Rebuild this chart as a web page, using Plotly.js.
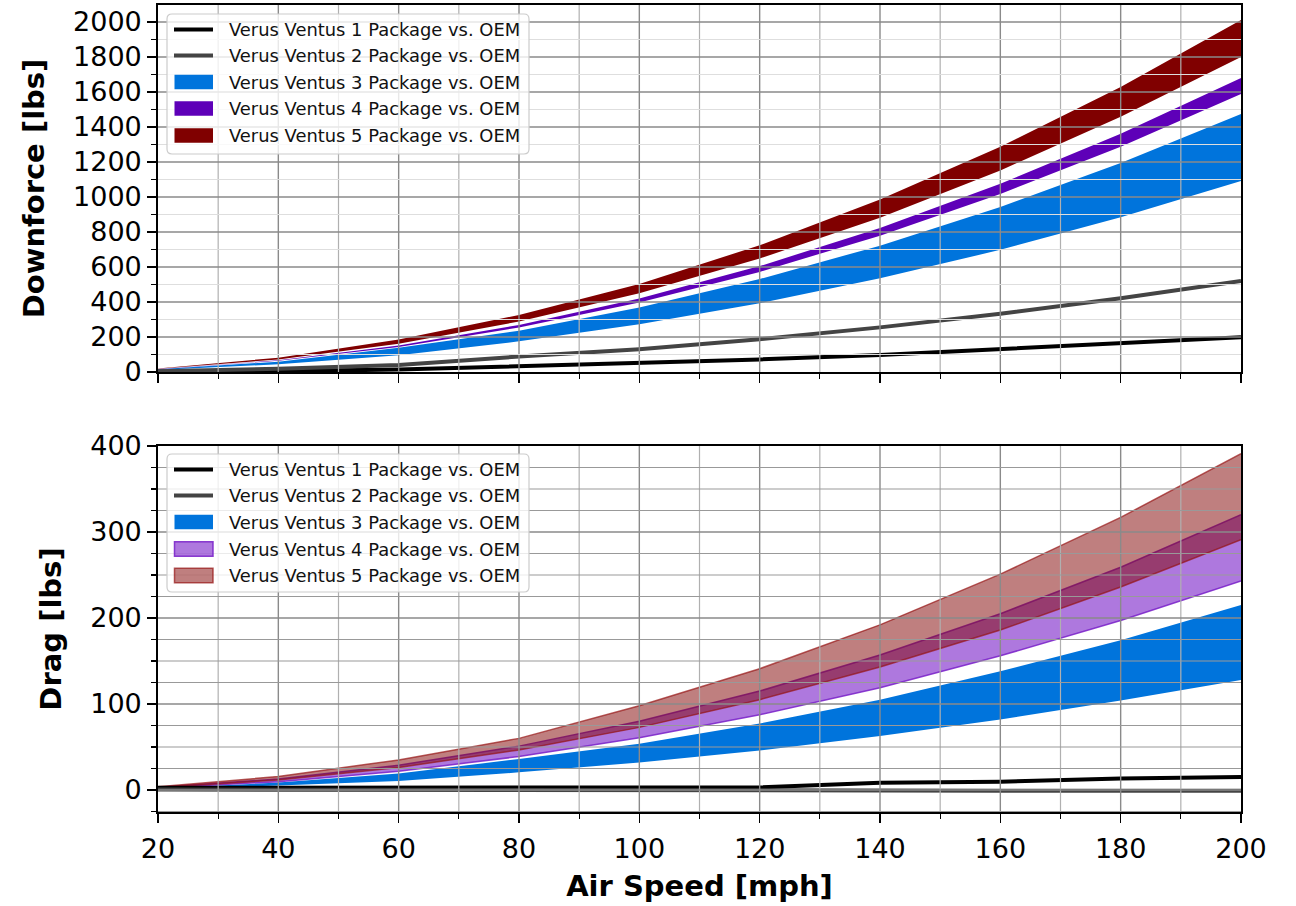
<!DOCTYPE html>
<html><head><meta charset="utf-8">
<script src="https://cdn.plot.ly/plotly-3.0.1.min.js"></script>
<style>html,body{margin:0;padding:0;background:#fff}#chart{width:1296px;height:906px}</style>
</head><body><div id="chart"></div>
<script>
// ---- data ----
const speed = [20, 40, 60, 80, 100, 120, 140, 160, 180, 200];
const seriesNames = ["Verus Ventus 1 Package vs. OEM", "Verus Ventus 2 Package vs. OEM", "Verus Ventus 3 Package vs. OEM", "Verus Ventus 4 Package vs. OEM", "Verus Ventus 5 Package vs. OEM"];
// Downforce [lbs]
const dfVV1 = [2, 5, 14, 32, 50, 72, 97, 130, 164, 198];
const dfVV2 = [4, 19, 40, 88, 130, 187, 255, 333, 421, 520];
const dfVV3Lo = [11, 44, 95, 175, 273, 393, 535, 698, 884, 1091];
const dfVV3Hi = [15, 59, 138, 236, 369, 531, 722, 943, 1194, 1474];
const dfVV4Lo = [16, 64, 143, 254, 397, 572, 779, 1017, 1287, 1589];
const dfVV4Hi = [17, 67, 151, 269, 420, 605, 823, 1075, 1361, 1680];
const dfVV5Lo = [18, 72, 162, 288, 450, 648, 882, 1152, 1458, 1800];
const dfVV5Hi = [20, 82, 186, 326, 503, 724, 985, 1287, 1629, 2011];
// Drag [lbs]
const drVV1 = [2.5, 2.5, 2.5, 2.5, 3, 3, 8.5, 9.5, 13.5, 15];
const drVV2 = [0.5, 0.5, 0.5, 0.5, 0.5, 0.5, -0.5, -1, -1, -1];
const drVV3Lo = [1.3, 5.1, 10.5, 20.5, 32, 46, 62.7, 82, 104, 128];
const drVV3Hi = [2.1, 8.6, 19.3, 36, 53.7, 77.3, 105, 138, 174, 215];
const drVV4Lo = [2.4, 9.7, 21.9, 38.9, 60.8, 87.5, 119, 156, 197, 243];
const drVV4Hi = [3.2, 12.8, 28.8, 51, 80, 115, 157, 205, 259, 320];
const drVV5Lo = [2.9, 11.6, 26.2, 46.6, 72.8, 105, 143, 186, 236, 291];
const drVV5Hi = [3.9, 15.6, 35, 60, 98, 141, 192, 251, 317, 391];

// ---- styles ----
const FONT = "DejaVu Sans, Verdana, sans-serif";
const C1 = "#000000", C2 = "#444444", C3 = "#0074DC", C4 = "#5E00B8", C5 = "#800000";
const F4 = "rgba(120,30,200,0.6)", E4 = "rgba(120,30,200,0.85)";
const F5 = "rgba(128,0,0,0.5)", E5 = "rgba(150,20,20,0.7)";

function band(x, lo, hi, xa, ya, fill, edge, ew) {
  return [
    {x: x, y: lo, xaxis: xa, yaxis: ya, mode: "lines", line: {width: ew, color: edge}, showlegend: false, hoverinfo: "skip"},
    {x: x, y: hi, xaxis: xa, yaxis: ya, mode: "lines", fill: "tonexty", fillcolor: fill, line: {width: ew, color: edge}, showlegend: false, hoverinfo: "skip"}
  ];
}
function line(x, y, xa, ya, color) {
  return {x: x, y: y, xaxis: xa, yaxis: ya, mode: "lines", line: {width: 4, color: color}, showlegend: false, hoverinfo: "skip"};
}

const data = [].concat(
  band(speed, dfVV3Lo, dfVV3Hi, "x", "y", C3, C3, 0),
  band(speed, dfVV4Lo, dfVV4Hi, "x", "y", C4, C4, 0),
  band(speed, dfVV5Lo, dfVV5Hi, "x", "y", C5, C5, 0),
  [line(speed, dfVV1, "x", "y", C1), line(speed, dfVV2, "x", "y", C2)],
  band(speed, drVV3Lo, drVV3Hi, "x2", "y2", C3, C3, 0),
  band(speed, drVV4Lo, drVV4Hi, "x2", "y2", F4, E4, 1.5),
  band(speed, drVV5Lo, drVV5Hi, "x2", "y2", F5, E5, 1.5),
  [line(speed, drVV1, "x2", "y2", C1), line(speed, drVV2, "x2", "y2", C2)]
);

// ---- geometry (pixels -> paper) ----
const L = 158, R = 1241, T = 5, B = 812;
const px = p => (p - L) / (R - L);
const py = p => (B - p) / (B - T);

const shapes = [], annotations = [];

// grid lines drawn above the filled bands (as in the reference)
const GMAJ = "#8a8a8a", GMINX = "#b0b0b0", GMINY1 = "#dedede", GMINY2 = "#999999";
function vgrid(xa, ya, v, color, w) {
  shapes.push({type: "line", xref: xa, yref: ya + " domain", x0: v, x1: v, y0: 0, y1: 1, line: {color: color, width: w}, layer: "above"});
}
function hgrid(xa, ya, v, color, w) {
  shapes.push({type: "line", xref: xa + " domain", yref: ya, x0: 0, x1: 1, y0: v, y1: v, line: {color: color, width: w}, layer: "above"});
}
[["x", "y"], ["x2", "y2"]].forEach(([xa, ya]) => {
  for (let v = 30; v < 200; v += 20) vgrid(xa, ya, v, GMINX, 1.2);
  for (let v = 40; v < 200; v += 20) vgrid(xa, ya, v, GMAJ, 1.4);
});
for (let v = 100; v < 2097; v += 200) hgrid("x", "y", v, GMINY1, 1.2);
for (let v = 200; v < 2097; v += 200) hgrid("x", "y", v, GMAJ, 1.4);
for (let v = -25; v < 400; v += 25) { if (v % 100 !== 0) hgrid("x2", "y2", v, GMINY2, 1.2); }
for (let v = 0; v < 400; v += 100) hgrid("x2", "y2", v, GMAJ, 1.4);

function roundRect(x0, y0, x1, y1, r) {
  const P = (a, b) => px(a).toFixed(5) + "," + py(b).toFixed(5);
  return "M" + P(x0 + r, y0) + " L" + P(x1 - r, y0) + " Q" + P(x1, y0) + " " + P(x1, y0 + r) +
    " L" + P(x1, y1 - r) + " Q" + P(x1, y1) + " " + P(x1 - r, y1) +
    " L" + P(x0 + r, y1) + " Q" + P(x0, y1) + " " + P(x0, y1 - r) +
    " L" + P(x0, y0 + r) + " Q" + P(x0, y0) + " " + P(x0 + r, y0) + " Z";
}

function legendBox(top, bottom, rows, kinds) {
  shapes.push({type: "path", xref: "paper", yref: "paper", path: roundRect(167, top, 529, bottom, 5),
    fillcolor: "rgba(255,255,255,0.8)", line: {color: "rgba(204,204,204,1)", width: 1.2}, layer: "above"});
  rows.forEach((ry, i) => {
    const k = kinds[i];
    if (k.type === "line") {
      shapes.push({type: "line", xref: "paper", yref: "paper", x0: px(174), x1: px(213), y0: py(ry), y1: py(ry),
        line: {color: k.color, width: 4}, layer: "above"});
    } else {
      shapes.push({type: "rect", xref: "paper", yref: "paper", x0: px(174.5), x1: px(213), y0: py(ry - 7.2), y1: py(ry + 7.2),
        fillcolor: k.fill, line: {color: k.edge, width: k.ew}, layer: "above"});
    }
    annotations.push({xref: "paper", yref: "paper", x: px(227), y: py(ry), xanchor: "left", yanchor: "middle",
      text: seriesNames[i], showarrow: false, font: {family: FONT, size: 17.9, color: "#111"}});
  });
}
legendBox(14, 154, [29.5, 55.5, 82, 108.5, 135.5], [
  {type: "line", color: C1}, {type: "line", color: C2},
  {type: "rect", fill: C3, edge: C3, ew: 0}, {type: "rect", fill: C4, edge: C4, ew: 0}, {type: "rect", fill: C5, edge: C5, ew: 0}]);
legendBox(454, 592, [469.5, 495.5, 522, 549, 575.5], [
  {type: "line", color: C1}, {type: "line", color: C2},
  {type: "rect", fill: C3, edge: C3, ew: 0}, {type: "rect", fill: F4, edge: E4, ew: 1.5}, {type: "rect", fill: F5, edge: E5, ew: 1.5}]);

const tickFont = {family: FONT, size: 27, color: "#000"};
const titleFont = {family: FONT, size: 29, color: "#000", weight: "bold"};
const common = {
  showline: true, linecolor: "#000", linewidth: 1.8, mirror: true, zeroline: false,
  ticks: "outside", ticklen: 9, tickwidth: 1.6, tickcolor: "#000", tickfont: tickFont,
  showgrid: false, layer: "above traces"
};
const xCommon = Object.assign({}, common, {
  range: [20, 200], tickmode: "linear", tick0: 20, dtick: 20, ticklabelstandoff: 3,
  minor: {dtick: 10, ticks: "outside", ticklen: 5, tickwidth: 1.3, tickcolor: "#000", showgrid: false}
});

const layout = {
  width: 1296, height: 906, paper_bgcolor: "#fff", plot_bgcolor: "#fff",
  margin: {l: L, r: 1296 - R, t: T, b: 906 - B, pad: 0},
  showlegend: false,
  font: {family: FONT},
  xaxis: Object.assign({}, xCommon, {anchor: "y", matches: "x2", showticklabels: false, automargin: false}),
  xaxis2: Object.assign({}, xCommon, {anchor: "y2",
    title: {text: "Air Speed [mph]", font: titleFont, standoff: 12}, automargin: "bottom"}),
  yaxis: Object.assign({}, common, {domain: [py(372), 1], range: [0, 2097], tickmode: "linear", tick0: 0, dtick: 200,
    minor: {dtick: 100, ticks: "outside", ticklen: 5, tickwidth: 1.3, tickcolor: "#000", showgrid: false},
    automargin: "left", title: {text: "Downforce [lbs]", font: titleFont, standoff: 20}}),
  yaxis2: Object.assign({}, common, {domain: [0, py(446)], range: [-25.6, 400], tickmode: "linear", tick0: 0, dtick: 100,
    minor: {dtick: 25, ticks: "outside", ticklen: 5, tickwidth: 1.3, tickcolor: "#000", showgrid: false},
    automargin: "left", title: {text: "Drag [lbs]", font: titleFont, standoff: 20}}),
  shapes: shapes,
  annotations: annotations
};

Plotly.newPlot("chart", data, layout, {staticPlot: true, displayModeBar: false});
</script></body></html>
